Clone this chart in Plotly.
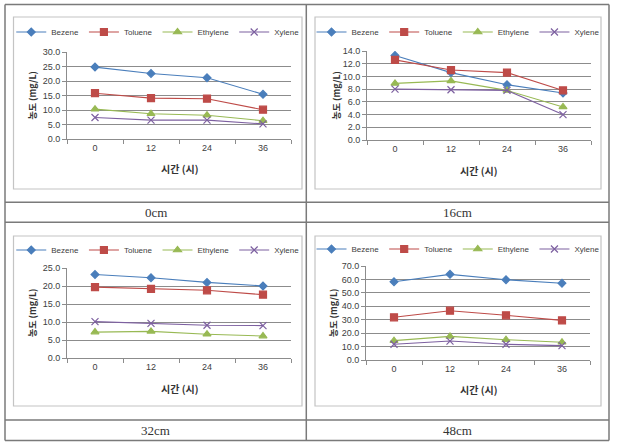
import plotly.graph_objects as go

W, H = 618, 448

hours = ["0", "12", "24", "36"]
series_names = ["Bezene", "Toluene", "Ethylene", "Xylene"]
panel_labels = ["0cm", "16cm", "32cm", "48cm"]

bezene_0 = [24.8, 22.6, 21.1, 15.4]
toluene_0 = [15.8, 14.1, 13.9, 10.1]
ethylene_0 = [10.3, 8.7, 8.2, 6.3]
xylene_0 = [7.4, 6.5, 6.5, 5.2]

bezene_16 = [13.3, 10.6, 8.7, 7.4]
toluene_16 = [12.6, 11.0, 10.6, 7.8]
ethylene_16 = [8.9, 9.3, 7.8, 5.2]
xylene_16 = [8.0, 7.9, 7.8, 4.0]

bezene_32 = [23.2, 22.3, 21.0, 20.0]
toluene_32 = [19.7, 19.2, 18.8, 17.6]
ethylene_32 = [7.2, 7.4, 6.6, 6.1]
xylene_32 = [10.1, 9.6, 9.1, 9.0]

bezene_48 = [58.3, 63.8, 59.8, 57.2]
toluene_48 = [31.8, 36.7, 33.3, 29.5]
ethylene_48 = [14.4, 17.6, 15.1, 13.2]
xylene_48 = [11.7, 14.1, 11.7, 10.7]

y_max = [30, 14, 25, 70]
y_dtick = [5, 2, 5, 10]

panels = [
    [bezene_0, toluene_0, ethylene_0, xylene_0],
    [bezene_16, toluene_16, ethylene_16, xylene_16],
    [bezene_32, toluene_32, ethylene_32, xylene_32],
    [bezene_48, toluene_48, ethylene_48, xylene_48],
]

colors = ["#4A7EBB", "#BE4B48", "#98B954", "#7D60A0"]
symbols = ["diamond", "square", "triangle-up", "x-thin"]
msizes = [6, 7, 7, 7]

# pixel geometry of plot areas: (x0, x1, ytop, ybottom)
areas = [
    (67, 291, 52, 139),
    (367, 591, 51, 140),
    (67, 291, 268, 358),
    (366, 590, 266, 360),
]
frames = [(13.5, 302, 17, 189), (315, 601, 17, 189), (13.5, 302, 236, 406), (315, 601, 236, 406)]
legend_y = [32, 32, 250, 249]
ytitle_x = [32, 336, 32, 333]
xtitle_y = [169, 170, 388, 389]
caption_pos = [(155.5, 212), (457.5, 212), (155.5, 430), (457.5, 430)]

def px(x):
    return x / W

def py(y):
    return 1 - y / H

fig = go.Figure()
font_main = "Noto Sans CJK KR"
font_lat = "Liberation Sans"
tick_color = "#404040"
grid_color = "#8C8C8C"

layout = dict(
    width=W, height=H, autosize=False,
    margin=dict(l=0, r=0, t=0, b=0, autoexpand=False),
    paper_bgcolor="white", plot_bgcolor="white",
    font=dict(family=font_lat, size=9, color=tick_color),
)

shapes = []
annotations = []

for i, data in enumerate(panels):
    n = i + 1
    xa = "x" if n == 1 else f"x{n}"
    ya = "y" if n == 1 else f"y{n}"
    lg = "legend" if n == 1 else f"legend{n}"
    for j, vals in enumerate(data):
        fig.add_trace(go.Scatter(
            x=hours, y=vals, name=series_names[j], mode="lines+markers",
            xaxis=xa, yaxis=ya, legend=lg,
            line=dict(color=colors[j], width=1.1),
            marker=dict(symbol=symbols[j], size=msizes[j], color=colors[j],
                        line=dict(color=colors[j], width=1.2)),
            showlegend=True,
        ))
    x0, x1, yt, yb = areas[i]
    xkey = "xaxis" if n == 1 else f"xaxis{n}"
    ykey = "yaxis" if n == 1 else f"yaxis{n}"
    layout[xkey] = dict(
        domain=[px(x0), px(x1)], anchor=ya, type="category",
        range=[-0.5, 3.5], tickson="boundaries", ticks="outside", ticklen=4,
        tickcolor=grid_color, showgrid=False, showline=True, linecolor=grid_color,
        linewidth=1, tickfont=dict(size=9, color=tick_color), zeroline=False,
    )
    layout[ykey] = dict(
        domain=[py(yb), py(yt)], anchor=xa, range=[0, y_max[i]], dtick=y_dtick[i],
        tickformat=".1f", ticks="outside", ticklen=4, tickcolor=grid_color,
        showgrid=True, gridcolor=grid_color, gridwidth=1, showline=True,
        linecolor=grid_color, linewidth=1, zeroline=False,
        tickfont=dict(size=9, color=tick_color),
    )
    fx0, fx1, fy0, fy1 = frames[i]
    layout[lg] = dict(
        orientation="h", x=px((fx0 + fx1) / 2), y=py(legend_y[i]),
        xanchor="center", yanchor="middle", bgcolor="rgba(0,0,0,0)",
        font=dict(size=8, color=tick_color, family=font_lat), itemwidth=30,
        tracegroupgap=0, borderwidth=0,
    )
    # axis titles
    annotations.append(dict(
        text="<b>농도 (mg/L)</b>", x=px(ytitle_x[i]), y=py((yt + yb) / 2),
        xref="paper", yref="paper", showarrow=False, textangle=-90,
        font=dict(size=9, color="#333333", family=font_main),
        xanchor="center", yanchor="middle",
    ))
    annotations.append(dict(
        text="<b>시간 (시)</b>", x=px((x0 + x1) / 2), y=py(xtitle_y[i]),
        xref="paper", yref="paper", showarrow=False,
        font=dict(size=10, color="#333333", family=font_main),
        xanchor="center", yanchor="middle",
    ))
    cx, cy = caption_pos[i]
    annotations.append(dict(
        text=panel_labels[i], x=px(cx), y=py(cy), xref="paper", yref="paper",
        showarrow=False, font=dict(size=13, color="#333333", family="Liberation Serif"),
        xanchor="center", yanchor="middle",
    ))
    shapes.append(dict(type="rect", xref="paper", yref="paper",
                       x0=px(fx0), x1=px(fx1), y0=py(fy1), y1=py(fy0),
                       line=dict(color="#C4C4C4", width=1.2), layer="below"))

# table borders
border = dict(color="#7A7A7A", width=1.5)
def hline(y, xa=5, xb=609):
    shapes.append(dict(type="line", xref="paper", yref="paper",
                       x0=px(xa), x1=px(xb), y0=py(y), y1=py(y), line=border))
def vline(x, ya=4.5, yb=440.5):
    shapes.append(dict(type="line", xref="paper", yref="paper",
                       x0=px(x), x1=px(x), y0=py(ya), y1=py(yb), line=border))

for y in [4.5, 202.3, 222.3, 420, 440.5]:
    hline(y)
for x in [5, 306.3, 609]:
    vline(x)

layout["shapes"] = shapes
layout["annotations"] = annotations
fig.update_layout(**layout)
fig.write_html(
    "out.html",
    config={"displayModeBar": False},
    post_script="document.body.style.margin='0';document.body.style.overflow='hidden';",
)
